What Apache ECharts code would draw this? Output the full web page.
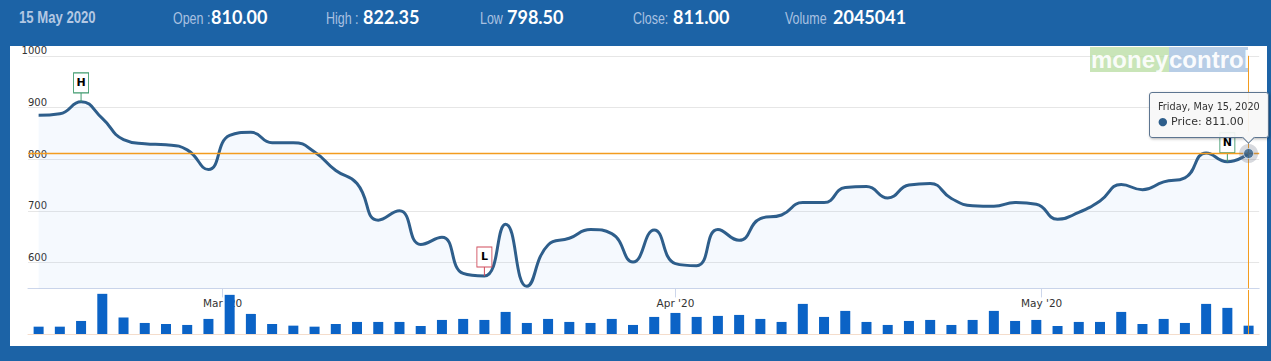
<!DOCTYPE html>
<html>
<head>
<meta charset="utf-8">
<script src="https://cdn.jsdelivr.net/npm/echarts@6/dist/echarts.min.js"></script>
<style>
html,body{margin:0;padding:0;background:#1c63a6;overflow:hidden;}
#c{width:1271px;height:361px;}
</style>
</head>
<body>
<div id="c"></div>
<script>
// ---------- data ----------
const dates = [
  '2020-02-17','2020-02-18','2020-02-19','2020-02-20','2020-02-24','2020-02-25','2020-02-26','2020-02-27','2020-02-28',
  '2020-03-02','2020-03-03','2020-03-04','2020-03-05','2020-03-06','2020-03-09','2020-03-11','2020-03-12','2020-03-13',
  '2020-03-16','2020-03-17','2020-03-18','2020-03-19','2020-03-20','2020-03-23','2020-03-24','2020-03-25','2020-03-26',
  '2020-03-27','2020-03-30','2020-03-31',
  '2020-04-01','2020-04-03','2020-04-07','2020-04-08','2020-04-09','2020-04-13','2020-04-15','2020-04-16','2020-04-17',
  '2020-04-20','2020-04-21','2020-04-22','2020-04-23','2020-04-24','2020-04-27','2020-04-28','2020-04-29','2020-04-30',
  '2020-05-04','2020-05-05','2020-05-06','2020-05-07','2020-05-08','2020-05-11','2020-05-12','2020-05-13','2020-05-14','2020-05-15'
];
const prices = [
  885, 888, 911, 879, 838, 830, 828, 818, 780,
  846, 852, 832, 832, 814, 778, 753, 682, 700,
  635, 649, 579, 574, 674, 554, 634, 647, 664,
  656, 601, 663,
  598, 594, 664, 643, 685, 692, 716, 716, 745,
  747, 725, 750, 753, 724, 710, 709, 716, 713,
  684, 697, 719, 751, 741, 756, 764, 812, 795, 811
];
const volumes = [
  1800000, 1800000, 3200000, 9860000, 4020000, 2710000, 2460000, 2220000, 3700000,
  9610000, 4930000, 2460000, 2050000, 1800000, 2460000, 2960000, 2960000, 2960000,
  1970000, 3450000, 3700000, 3450000, 5420000, 2710000, 3700000, 2960000, 2710000,
  3700000, 2220000, 4190000,
  5170000, 4190000, 4440000, 4680000, 3700000, 2960000, 7390000, 4190000, 5670000,
  2960000, 2220000, 3200000, 3450000, 2220000, 3450000, 5670000, 3200000, 3450000,
  1970000, 2960000, 2960000, 5420000, 2460000, 3700000, 2710000, 7390000, 6410000, 2045041
];
const priceTicks = [600, 700, 800, 900, 1000];
const flagIndex = [2, 21, 56];
const flagText = ['H', 'L', 'N'];
const quoteDate = '15 May 2020';
const quoteLabels = ['Open :', 'High :', 'Low', 'Close:', 'Volume'];
const quoteValues = ['810.00', '822.35', '798.50', '811.00', '2045041'];

// ---------- derived ----------
const times = dates.map(d => Date.parse(d + 'T00:00:00Z'));
const monthNames = ['Jan','Feb','Mar','Apr','May','Jun','Jul','Aug','Sep','Oct','Nov','Dec'];
const monthPos = [], monthLabels = [];
(function () {
  const first = new Date(times[0]);
  let y = first.getUTCFullYear(), m = first.getUTCMonth() + 1;
  while (true) {
    if (m > 11) { m = 0; y++; }
    const ms = Date.UTC(y, m, 1);
    if (ms > times[times.length - 1]) break;
    const i = times.findIndex(t => t >= ms);
    const pos = times[i] === ms ? i : (i - 1) + (ms - times[i - 1]) / (times[i] - times[i - 1]);
    monthPos.push(pos);
    monthLabels.push(monthNames[m] + " '" + String(y).slice(2));
    m++;
  }
})();
const last = prices.length - 1;
const xMin = -0.5, xMax = last + 0.5;
const priceData = prices.map((p, i) => [i, p]);
const volData = volumes.map((v, i) => [i, v]);

const FONT = '"DejaVu Sans", Verdana, sans-serif';
const NARROW = '"Liberation Sans", Arial, sans-serif';
const lineColor = '#2e5e8b';
const crossColor = '#f39c1f';
const crossStyle = { color: crossColor, width: 1, type: 'solid', opacity: 1 };

const flagColors = { H: '#3f9a6e', L: '#cf4a5a', N: '#3f9a6e' };
const flagMarks = [];
flagIndex.forEach((idx, k) => {
  const t = flagText[k];
  flagMarks.push({
    coord: [idx, prices[idx]], symbol: 'rect', symbolSize: [1, 9], symbolOffset: [0, -4.5],
    itemStyle: { color: flagColors[t] }, label: { show: false }
  });
  flagMarks.push({
    coord: [idx, prices[idx]], symbol: 'rect', symbolSize: [15, 20], symbolOffset: [0, -19],
    itemStyle: { color: '#ffffff', borderColor: flagColors[t], borderWidth: 1 },
    label: { show: true, position: 'inside', formatter: t, color: '#000', fontWeight: 'bold', fontSize: 11, fontFamily: FONT }
  });
});

// header graphics
const labelX = [173, 326, 480, 633, 785];
const valueX = [211, 363, 507, 673, 833];
const headerEls = [
  { type: 'rect', shape: { x: 10, y: 46, width: 1257, height: 300 }, style: { fill: '#ffffff' }, z: -10, silent: true },
  { type: 'text', x: 19, y: 18, scaleX: 0.82, style: { text: quoteDate, fill: '#b3c8e3', font: 'bold 16px ' + NARROW, verticalAlign: 'middle' } }
];
quoteLabels.forEach((l, k) => {
  headerEls.push({ type: 'text', x: labelX[k], y: 18, scaleX: 0.78, style: { text: l, fill: '#a9c1e1', font: '16px ' + NARROW, verticalAlign: 'middle' } });
  headerEls.push({ type: 'text', x: valueX[k], y: 17, style: { text: quoteValues[k], fill: '#ffffff', font: 'bold 18px Lato, sans-serif', verticalAlign: 'middle' } });
});
// watermark
headerEls.push(
  { type: 'rect', shape: { x: 1090, y: 47, width: 79, height: 25 }, style: { fill: 'rgba(183,220,160,0.75)' }, z: 1, silent: true },
  { type: 'rect', shape: { x: 1169, y: 47, width: 79, height: 25 }, style: { fill: 'rgba(165,193,224,0.8)' }, z: 1, silent: true },
  { type: 'text', x: 1091, y: 59, z: 2, style: { text: 'money', fill: 'rgba(255,255,255,0.92)', font: 'bold 24px ' + NARROW, verticalAlign: 'middle' } },
  { type: 'text', x: 1169, y: 59, z: 2, style: { text: 'control', fill: 'rgba(255,255,255,0.95)', font: 'bold 24px ' + NARROW, verticalAlign: 'middle' } }
);

const chart = echarts.init(document.getElementById('c'), null, { renderer: 'svg', width: 1271, height: 361 });
const gridLeft = 28, gridWidth = 1231.2;

function tipHtml() {
  const ds = new Date(times[last]).toLocaleDateString('en-US', { weekday: 'long', year: 'numeric', month: 'long', day: 'numeric', timeZone: 'UTC' });
  return '<div style="font-size:9.7px;line-height:13px;white-space:nowrap">' + ds + '</div>' +
    '<div style="font-size:11px;line-height:17px;white-space:nowrap"><span style="color:' + lineColor + '">\u25CF</span> Price: ' + prices[last].toFixed(2) + '</div>' +
    '<div style="position:absolute;left:94px;bottom:-5px;width:9px;height:9px;box-sizing:border-box;background:#f7f7f7;border-right:1px solid #5d7590;border-bottom:1px solid #5d7590;transform:rotate(45deg)"></div>';
}

chart.setOption({
  animation: false,
  backgroundColor: '#1c63a6',
  graphic: { elements: headerEls },
  grid: [
    { left: gridLeft, top: 55.8, width: gridWidth, height: 232.6 },
    { left: gridLeft, top: 290, width: gridWidth, height: 44 }
  ],
  xAxis: [
    {
      type: 'value', gridIndex: 0, min: xMin, max: xMax,
      axisLine: { show: true, lineStyle: { color: '#ccd6eb' } },
      axisTick: { show: true, customValues: monthPos, length: 9, lineStyle: { color: '#ccd6eb' } },
      axisLabel: {
        customValues: monthPos, margin: 9, color: '#333', fontSize: 10.5, fontFamily: FONT,
        formatter: v => { const k = monthPos.findIndex(p => Math.abs(p - v) < 1e-6); return k >= 0 ? monthLabels[k] : ''; }
      },
      splitLine: { show: false }
    },
    {
      type: 'value', gridIndex: 1, min: xMin, max: xMax,
      axisLine: { show: true, lineStyle: { color: '#f4ddcc' } },
      axisTick: { show: false }, axisLabel: { show: false }, splitLine: { show: false }
    }
  ],
  yAxis: [
    {
      type: 'value', gridIndex: 0, min: 550, max: 1000, interval: 50,
      axisLine: { show: false }, axisTick: { show: false },
      axisLabel: {
        margin: -19, color: '#333', fontSize: 10, fontFamily: FONT, verticalAlign: 'bottom',
        formatter: v => priceTicks.indexOf(v) >= 0 ? String(v) : ''
      },
      splitLine: { show: true, lineStyle: { color: ['rgba(0,0,0,0)', '#e6e6e6'] } }
    },
    {
      type: 'value', gridIndex: 1, min: 0, max: 10800000, show: false, splitLine: { show: false }
    }
  ],
  tooltip: {
    trigger: 'item', triggerOn: 'none', alwaysShowContent: true, transitionDuration: 0,
    position: [1149, 92],
    padding: [7, 8, 7, 8],
    backgroundColor: 'rgba(247,247,247,0.92)', borderColor: '#5d7590', borderWidth: 1,
    extraCssText: 'border-radius:3px;box-shadow:1px 1px 3px rgba(0,0,0,0.3);',
    textStyle: { fontFamily: FONT, color: '#333' },
    formatter: () => tipHtml()
  },
  series: [
    {
      name: 'Price', type: 'line', xAxisIndex: 0, yAxisIndex: 0, data: priceData,
      smooth: true, showSymbol: false, symbol: 'circle', z: 3,
      lineStyle: { color: lineColor, width: 3 },
      itemStyle: { color: lineColor },
      areaStyle: { color: 'rgba(124,181,236,0.11)' },
      markLine: {
        silent: true, symbol: ['none', 'none'], label: { show: false },
        lineStyle: crossStyle,
        data: [{ xAxis: last }]
      },
      markPoint: { silent: true, data: flagMarks }
    },
    {
      name: 'halo', type: 'scatter', xAxisIndex: 0, yAxisIndex: 0, data: [priceData[last]],
      symbolSize: 19, itemStyle: { color: 'rgba(110,120,135,0.35)' }, silent: true, z: 6, tooltip: { show: false }
    },
    {
      name: 'dot', type: 'scatter', xAxisIndex: 0, yAxisIndex: 0, data: [priceData[last]],
      symbolSize: 10, itemStyle: { color: lineColor, borderColor: '#dfe6ee', borderWidth: 1 }, z: 7,
      emphasis: { disabled: true }
    },
    {
      name: 'Volume', type: 'bar', xAxisIndex: 1, yAxisIndex: 1, data: volData,
      barWidth: 10, itemStyle: { color: '#0b63c6' }, z: 3,
      markLine: {
        silent: true, symbol: ['none', 'none'], label: { show: false },
        lineStyle: crossStyle,
        data: [{ xAxis: last }]
      }
    },
    {
      name: 'crosshair', type: 'line', xAxisIndex: 0, yAxisIndex: 0,
      data: [[xMin, prices[last]], [xMax, prices[last]]],
      showSymbol: false, symbol: 'none', silent: true, z: 5, tooltip: { show: false },
      lineStyle: { color: crossColor, width: 1.4 }, itemStyle: { color: crossColor },
      emphasis: { disabled: true }
    }
  ]
});
function showTip() { chart.dispatchAction({ type: 'showTip', seriesIndex: 2, dataIndex: 0 }); }
showTip();
setTimeout(showTip, 30);
setTimeout(showTip, 200);
</script>
</body>
</html>
